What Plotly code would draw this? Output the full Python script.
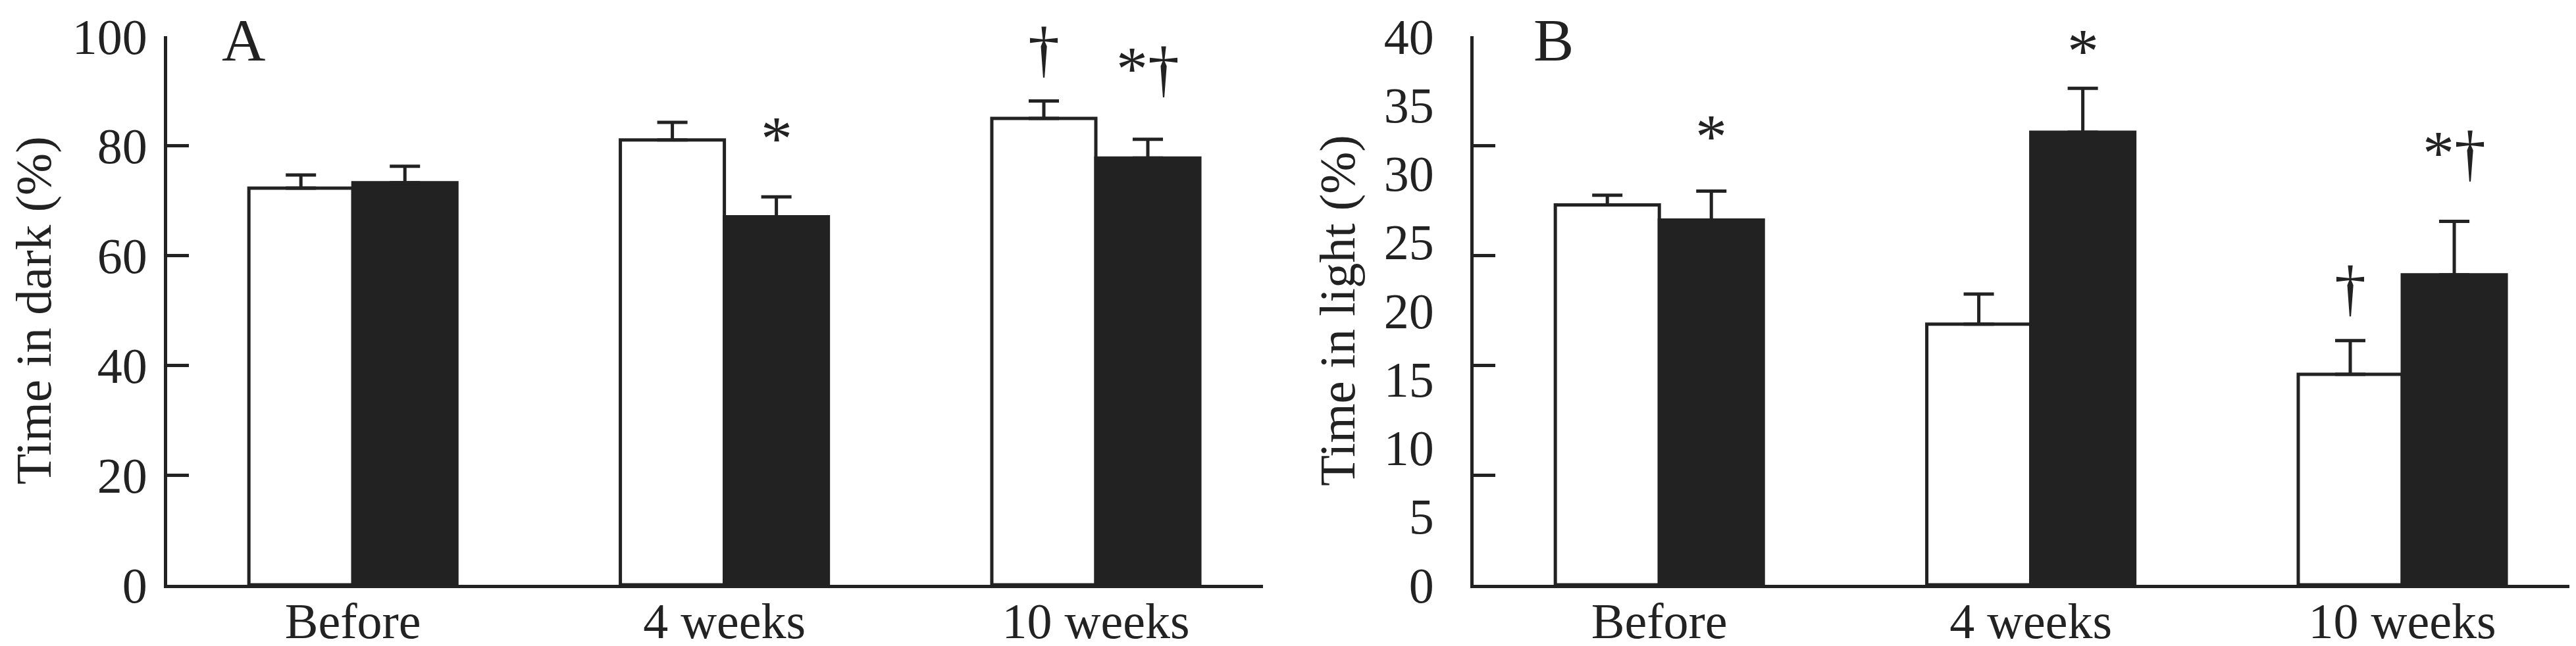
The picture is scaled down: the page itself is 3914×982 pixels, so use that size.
import plotly.graph_objects as go

# ---- data ----
categories = ["Before", "4 weeks", "10 weeks"]

dark_white = [72.3, 81.1, 85.0]
dark_white_err = [2.4, 3.2, 3.2]
dark_black = [73.3, 67.1, 77.8]
dark_black_err = [3.0, 3.6, 3.4]

light_white = [27.7, 19.0, 15.35]
light_white_err = [0.7, 2.2, 2.45]
light_black = [26.6, 33.0, 22.6]
light_black_err = [2.1, 3.2, 3.9]

yticks_A = [0, 20, 40, 60, 80, 100]
ylabels_B = [0, 5, 10, 15, 20, 25, 30, 35, 40]
yticks_B = [0, 8, 16, 24, 32, 40]

# significance marks: (category, group offset, text, y)
marks_A = [("4 weeks", 0.14, "*", 81.4), ("10 weeks", -0.14, "†", 96.2), ("10 weeks", 0.14, "*†", 92.6)]
marks_B = [("Before", 0.14, "*", 32.7), ("4 weeks", 0.14, "*", 38.9), ("10 weeks", -0.14, "†", 21.1), ("10 weeks", 0.14, "*†", 30.9)]

INK = "#222222"
FONT = "Liberation Serif"

fig = go.Figure()

def add_bars(xa, ya, w, we, b, be):
    fig.add_trace(go.Bar(x=categories, y=w, xaxis=xa, yaxis=ya,
                         marker=dict(color="white", line=dict(color=INK, width=5)),
                         error_y=dict(type="data", array=we, arrayminus=[0]*len(we), symmetric=False,
                                      color=INK, thickness=5, width=23),
                         showlegend=False))
    fig.add_trace(go.Bar(x=categories, y=b, xaxis=xa, yaxis=ya,
                         marker=dict(color=INK, line=dict(color=INK, width=5)),
                         error_y=dict(type="data", array=be, arrayminus=[0]*len(be), symmetric=False,
                                      color=INK, thickness=5, width=23),
                         showlegend=False))

add_bars("x", "y", dark_white, dark_white_err, dark_black, dark_black_err)
add_bars("x2", "y2", light_white, light_white_err, light_black, light_black_err)

# invisible trace to activate tick-only overlay axis for panel B
fig.add_trace(go.Scatter(x=[categories[0]], y=[0], xaxis="x2", yaxis="y3", mode="markers",
                         marker=dict(opacity=0), showlegend=False, hoverinfo="skip"))

ydom = [1 - 881/982, 1 - 47/982]
xdomA = [246/3914, 1911/3914]
xdomB = [2231/3914, 3896/3914]

axis_common = dict(showline=True, linecolor=INK, linewidth=5, showgrid=False, zeroline=False,
                   automargin=False, tickfont=dict(family=FONT, size=76, color=INK))

fig.update_layout(
    template="none",
    width=3914, height=982,
    margin=dict(l=0, r=0, t=0, b=0, pad=0),
    paper_bgcolor="white", plot_bgcolor="white",
    barmode="group", bargap=0.44, bargroupgap=0,
    font=dict(family=FONT, color=INK),
    xaxis=dict(domain=xdomA, anchor="y", range=[-0.5, 2.45], ticks="", type="category",
               ticklabelstandoff=-15, **axis_common),
    yaxis=dict(domain=ydom, anchor="x", range=[0, 100], tickvals=yticks_A, ticks="inside",
               ticklen=33, tickwidth=5, tickcolor=INK, ticklabelstandoff=10,
               title=dict(text="Time in dark (%)", font=dict(family=FONT, size=77, color=INK), standoff=20),
               **axis_common),
    xaxis2=dict(domain=xdomB, anchor="y2", range=[-0.5, 2.45], ticks="", type="category",
                ticklabelstandoff=-15, **axis_common),
    yaxis2=dict(domain=ydom, anchor="x2", range=[0, 40], tickvals=ylabels_B, ticks="",
                ticklabelstandoff=40,
                title=dict(text="Time in light (%)", font=dict(family=FONT, size=77, color=INK), standoff=20),
                **axis_common),
    yaxis3=dict(domain=ydom, anchor="x2", overlaying="y2", side="left", range=[0, 40],
                tickvals=yticks_B, ticks="inside", ticklen=33, tickwidth=5, tickcolor=INK,
                showticklabels=False, showline=False, showgrid=False, zeroline=False, automargin=False),
)

cat_index = {c: i for i, c in enumerate(categories)}
for xa, ya, marks in (("x", "y", marks_A), ("x2", "y2", marks_B)):
    for cat, off, txt, yv in marks:
        fig.add_annotation(x=cat_index[cat] + off, y=yv, xref=xa, yref=ya, text=txt, showarrow=False,
                           xanchor="center", yanchor="middle", yshift=12 if "†" in txt else 0,
                           font=dict(family=FONT, size=96, color=INK))

fig.add_annotation(x=327/3914, y=1, xref="paper", yref="paper", text="A", showarrow=False,
                   xanchor="left", yanchor="top", font=dict(family=FONT, size=92, color=INK))
fig.add_annotation(x=2320/3914, y=1, xref="paper", yref="paper", text="B", showarrow=False,
                   xanchor="left", yanchor="top", font=dict(family=FONT, size=92, color=INK))

fig.write_html("out.html")
